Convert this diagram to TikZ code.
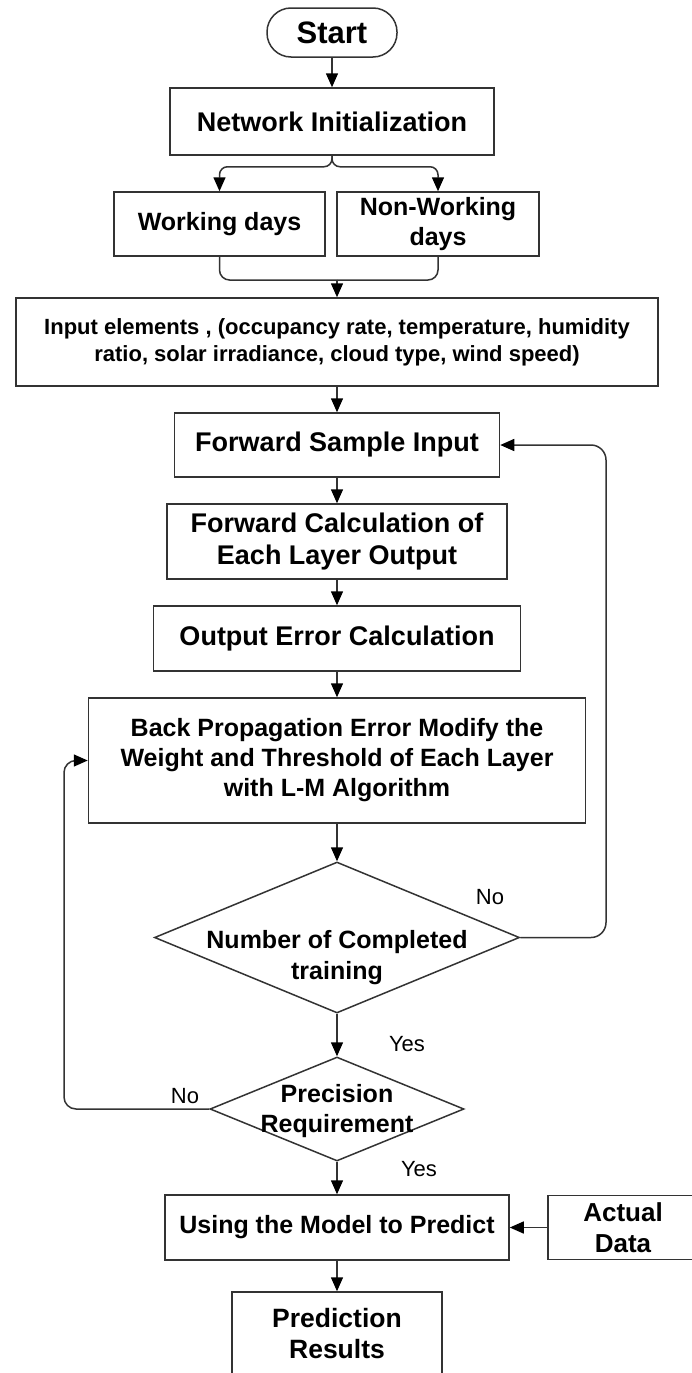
\documentclass[tikz,border=0pt]{standalone}
\usepackage{fontspec}
\setmainfont{Liberation Sans}
\usetikzlibrary{arrows.meta,shapes.geometric}
\definecolor{linec}{HTML}{333333}
\begin{document}
\begin{tikzpicture}[x=1pt,y=-1pt,
  box/.style={draw=linec, line width=1.5pt, inner sep=0pt, align=center,
    font=\bfseries\fontsize{25}{30}\selectfont},
  dia/.style={draw=linec, line width=1.5pt, shape=diamond, inner sep=0pt},
  diatext/.style={align=center, inner sep=0pt, font=\bfseries\fontsize{25}{31}\selectfont},
  lab/.style={inner sep=0pt, font=\fontsize{22}{26}\selectfont},
  arr/.style={draw=linec, line width=1.5pt, -{Triangle[length=14pt,width=12pt,color=black]}},
  conn/.style={draw=linec, line width=1.5pt}
]
\useasboundingbox (0,0) rectangle (692,1373);
\clip (0,0) rectangle (692,1373);
\fill[white] (0,0) rectangle (692,1373);

\node[box, rounded corners=24pt, minimum width=130pt, minimum height=49pt,
  font=\bfseries\fontsize{31}{36}\selectfont] (start) at (332,32.5) {Start};
\node[box, minimum width=324pt, minimum height=67pt,
  font=\bfseries\fontsize{27}{32}\selectfont] (ni) at (332,121.5) {Network Initialization};
\node[box, minimum width=211pt, minimum height=64pt] (wd) at (219.5,224) {Working days};
\node[box, minimum width=202pt, minimum height=64pt] (nwd) at (438,224) {Non-Working\\days};
\node[box, minimum width=642pt, minimum height=88pt,
  font=\bfseries\fontsize{22}{27}\selectfont] (inp) at (337,342)
  {Input elements , (occupancy rate, temperature, humidity\\ratio, solar irradiance, cloud type, wind speed)};
\node[box, minimum width=325pt, minimum height=64pt,
  font=\bfseries\fontsize{27}{32}\selectfont] (fsi) at (337,445) {Forward Sample Input};
\node[box, minimum width=340pt, minimum height=75pt,
  font=\bfseries\fontsize{27}{32}\selectfont] (fc) at (337,541.5) {Forward Calculation of\\Each Layer Output};
\node[box, minimum width=367pt, minimum height=65pt,
  font=\bfseries\fontsize{27}{32}\selectfont] (oe) at (337,638.5) {Output Error Calculation};
\node[box, minimum width=497pt, minimum height=125pt] (bp) at (337,760.5)
  {Back Propagation Error Modify the\\Weight and Threshold of Each Layer\\with L-M Algorithm};
\node[dia, minimum width=365pt, minimum height=151pt] (d1) at (337,937.5) {};
\node[diatext] (t1) at (337,958) {Number of Completed\\training};
\node[dia, minimum width=254pt, minimum height=104pt] (d2) at (337,1109) {};
\node[diatext, font=\bfseries\fontsize{25}{30}\selectfont] (t2) at (337,1111) {Precision\\Requirement};
\node[box, minimum width=344pt, minimum height=65pt] (um) at (337,1227.5) {Using the Model to Predict};
\node[box, minimum width=150pt, minimum height=64pt,
  font=\bfseries\fontsize{26}{31}\selectfont] (ad) at (623,1227.5) {Actual\\Data};
\node[box, minimum width=210pt, minimum height=84pt,
  font=\bfseries\fontsize{26.5}{31}\selectfont] (pr) at (337,1334) {Prediction\\Results};

\node[lab] (lno1) at (490,897) {No};
\node[lab] (lyes1) at (407,1044) {Yes};
\node[lab] (lno2) at (185,1096) {No};
\node[lab] (lyes2) at (419,1169) {Yes};

\coordinate (m) at (337,280);
\coordinate (rx) at (606,0);
\coordinate (lx) at (64,0);

\draw[arr] (start.south) -- (ni.north);
\draw[arr, rounded corners=8pt] (ni.south) -- ++(0,11) -| (wd.north);
\draw[arr, rounded corners=8pt] (ni.south) -- ++(0,11) -| (nwd.north);
\draw[conn, rounded corners=10pt] (wd.south) |- (m);
\draw[conn, rounded corners=10pt] (nwd.south) |- (m);
\draw[arr] (m) -- (inp.north);
\draw[arr] (inp.south) -- (fsi.north);
\draw[arr] (fsi.south) -- (fc.north);
\draw[arr] (fc.south) -- (oe.north);
\draw[arr] (oe.south) -- (bp.north);
\draw[arr] (bp.south) -- (d1.north);
\draw[arr] (d1.south) -- (d2.north);
\draw[arr] (d2.south) -- (um.north);
\draw[arr] (ad.west) -- (um.east);
\draw[arr] (um.south) -- (pr.north);
\draw[arr, rounded corners=15pt] (d1.east) -| (rx |- fsi.east) -- (fsi.east);
\draw[arr, rounded corners=12pt] (d2.west) -| (lx |- bp.west) -- (bp.west);
\end{tikzpicture}
\end{document}
